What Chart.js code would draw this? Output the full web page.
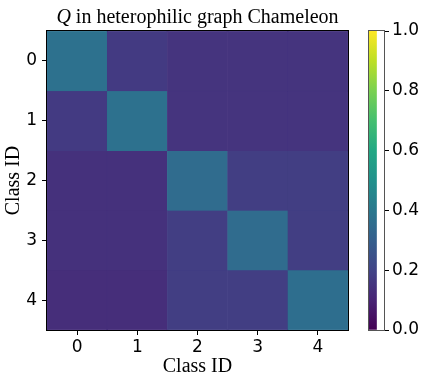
<!DOCTYPE html>
<html>
<head>
<meta charset="utf-8">
<script src="https://cdn.jsdelivr.net/npm/chart.js@4/dist/chart.umd.min.js"></script>
<style>
html,body{margin:0;padding:0;background:#fff;}
#wrap{position:relative;width:436px;height:381px;}
canvas{position:absolute;left:0;top:0;}
</style>
</head>
<body>
<div id="wrap">
<canvas id="heat" width="436" height="381"></canvas>
<canvas id="cbar" width="436" height="381"></canvas>
</div>
<script>
// ---- data ----
const classLabels = ['0', '1', '2', '3', '4'];
const row0 = [0.37, 0.17, 0.15, 0.15, 0.15];
const row1 = [0.17, 0.37, 0.15, 0.15, 0.15];
const row2 = [0.14, 0.14, 0.35, 0.18, 0.18];
const row3 = [0.14, 0.14, 0.18, 0.35, 0.18];
const row4 = [0.13, 0.13, 0.18, 0.18, 0.36];
const rows = [row0, row1, row2, row3, row4];
const colorbarTicks = [0, 0.2, 0.4, 0.6, 0.8, 1.0];
const titleItalic = 'Q';
const titleRest = ' in heterophilic graph Chameleon';
const axisTitle = 'Class ID';

// viridis colormap anchors
const VIR = ['#440154','#482475','#414487','#355f8d','#2a788e','#21918c','#22a884','#44bf70','#7ad151','#bddf26','#fde725'];
function hex2rgb(h){return [parseInt(h.slice(1,3),16),parseInt(h.slice(3,5),16),parseInt(h.slice(5,7),16)];}
function viridis(v){
  v = Math.max(0, Math.min(1, v));
  const p = v * 10, i = Math.min(9, Math.floor(p)), t = p - i;
  const a = hex2rgb(VIR[i]), b = hex2rgb(VIR[i+1]);
  const c = a.map((x,k)=>Math.round(x + (b[k]-x)*t));
  return 'rgb(' + c.join(',') + ')';
}

const sansFont = {family: "'DejaVu Sans', sans-serif", size: 17};
const serifFont = {family: "'Liberation Serif', 'Times New Roman', serif", size: 20};

const datasets = rows.map((vals, r) => ({
  data: vals.map((v, c) => ({x: classLabels[c], y: [r - 0.5, r + 0.5]})),
  backgroundColor: vals.map(v => viridis(v)),
  borderColor: vals.map(v => viridis(v)),
  borderWidth: 0.5,
  borderSkipped: false,
  grouped: false,
  barPercentage: 1,
  categoryPercentage: 1
}));

const framePlugin = {
  id: 'frame',
  afterDraw(chart) {
    const a = chart.chartArea, ctx = chart.ctx;
    ctx.save();
    ctx.strokeStyle = '#000';
    ctx.lineWidth = 1;
    ctx.strokeRect(Math.round(a.left) - 0.5, Math.round(a.top) - 0.5, Math.round(a.right - a.left) + 1, Math.round(a.bottom - a.top) + 1);
    // title
    const fam = "'Liberation Serif', 'Times New Roman', serif";
    ctx.fillStyle = '#000';
    ctx.textBaseline = 'alphabetic';
    ctx.font = 'italic 20px ' + fam;
    const w1 = ctx.measureText(titleItalic).width;
    ctx.font = '20px ' + fam;
    const w2 = ctx.measureText(titleRest).width;
    const cx = (a.left + a.right) / 2;
    let x = cx - (w1 + w2) / 2;
    const y = 23;
    ctx.font = 'italic 20px ' + fam;
    ctx.textAlign = 'left';
    ctx.fillText(titleItalic, x, y);
    ctx.font = '20px ' + fam;
    ctx.fillText(titleRest, x + w1, y);
    ctx.restore();
  }
};

new Chart(document.getElementById('heat'), {
  type: 'bar',
  data: {labels: classLabels, datasets: datasets},
  options: {
    responsive: false,
    animation: false,
    devicePixelRatio: 1,
    layout: {padding: {top: 31, left: 0, right: 88, bottom: 0}},
    plugins: {legend: {display: false}, tooltip: {enabled: false}, title: {display: false}},
    scales: {
      x: {
        type: 'category',
        offset: true,
        grid: {display: true, drawOnChartArea: false, drawTicks: true, tickLength: 5, color: '#000', offset: false},
        border: {display: false},
        ticks: {color: '#000', font: sansFont, padding: 2, maxRotation: 0},
        title: {display: true, text: axisTitle, color: '#000', font: serifFont, padding: {top: 0, bottom: 2}},
        afterFit(s) { s.height = 51; }
      },
      y: {
        type: 'linear',
        reverse: true,
        min: -0.5,
        max: 4.5,
        afterBuildTicks(s) { s.ticks = classLabels.map((l, i) => ({value: i})); },
        grid: {display: true, drawOnChartArea: false, drawTicks: true, tickLength: 5, color: '#000'},
        border: {display: false},
        ticks: {color: '#000', font: sansFont, padding: 5, callback: v => String(v)},
        title: {display: true, text: axisTitle, color: '#000', font: serifFont, padding: {top: 2, bottom: 0}},
        afterFit(s) { s.width = 47; }
      }
    }
  },
  plugins: [framePlugin]
});

// colorbar
const cbFrame = {
  id: 'cbFrame',
  afterDraw(chart) {
    const a = chart.chartArea, ctx = chart.ctx;
    ctx.save();
    ctx.strokeStyle = '#555';
    ctx.lineWidth = 1;
    ctx.strokeRect(Math.round(a.left) - 0.5, Math.round(a.top) - 0.5, Math.round(a.right - a.left) + 1, Math.round(a.bottom - a.top) + 1);
    ctx.restore();
  }
};
new Chart(document.getElementById('cbar'), {
  type: 'bar',
  data: {labels: ['Q'], datasets: [{
    data: [[0, 1]],
    backgroundColor(ctx) {
      const ch = ctx.chart, a = ch.chartArea;
      if (!a) return VIR[0];
      const g = ch.ctx.createLinearGradient(0, a.bottom, 0, a.top);
      VIR.forEach((c, i) => g.addColorStop(i / (VIR.length - 1), c));
      return g;
    },
    borderWidth: 0,
    barPercentage: 1,
    categoryPercentage: 1
  }]},
  options: {
    responsive: false,
    animation: false,
    devicePixelRatio: 1,
    layout: {padding: {top: 31, left: 369, right: 0, bottom: 51}},
    plugins: {legend: {display: false}, tooltip: {enabled: false}},
    scales: {
      x: {display: false, offset: false},
      y: {
        position: 'right',
        min: 0, max: 1,
        afterBuildTicks(s) { s.ticks = colorbarTicks.map(v => ({value: v})); },
        grid: {display: true, drawOnChartArea: false, drawTicks: true, tickLength: 5, color: '#000'},
        border: {display: false},
        ticks: {color: '#000', font: sansFont, padding: 3, callback: v => Number(v).toFixed(1)},
        afterFit(s) { s.width = 52; }
      }
    }
  },
  plugins: [cbFrame]
});
</script>
</body>
</html>
